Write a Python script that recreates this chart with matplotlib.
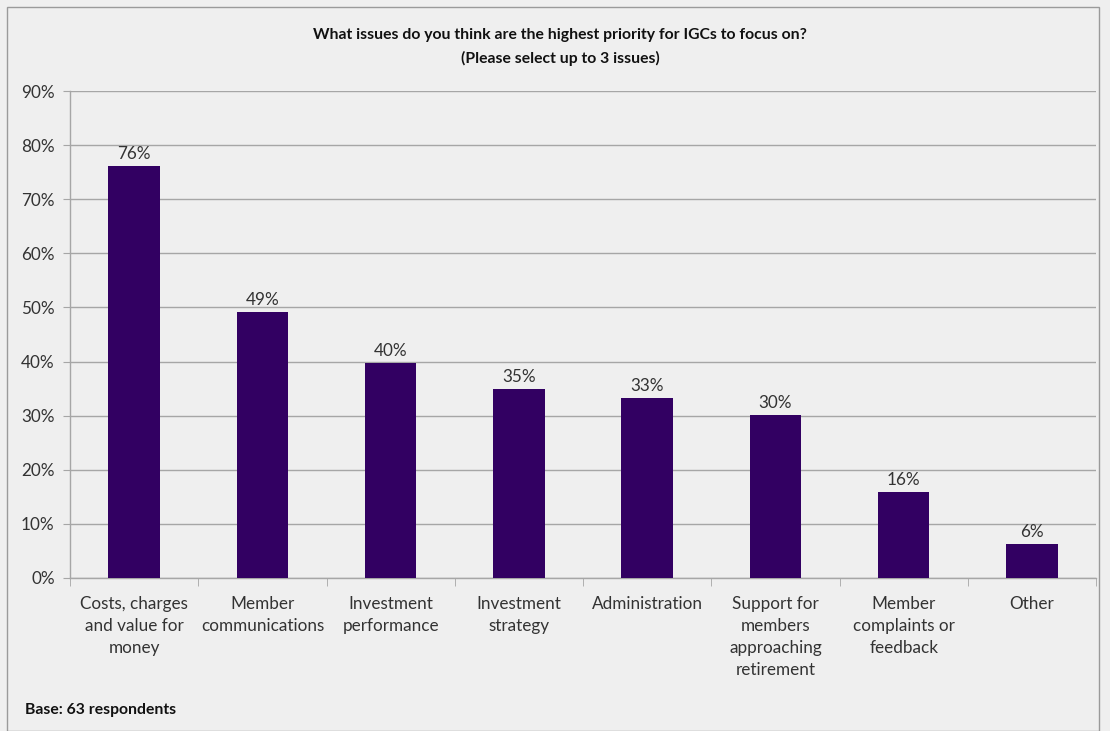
import matplotlib
matplotlib.use("Agg")
import matplotlib.pyplot as plt
from matplotlib.patches import Rectangle
import numpy as np

categories = ["Costs, charges\nand value for\nmoney", "Member\ncommunications",
              "Investment\nperformance", "Investment\nstrategy", "Administration",
              "Support for\nmembers\napproaching\nretirement", "Member\ncomplaints or\nfeedback",
              "Other"]
values = [76.2, 49.2, 39.7, 34.9, 33.3, 30.2, 15.9, 6.3]
labels = ["76%", "49%", "40%", "35%", "33%", "30%", "16%", "6%"]
yticks = [0, 10, 20, 30, 40, 50, 60, 70, 80, 90]
title = "What issues do you think are the highest priority for IGCs to focus on?\n(Please select up to 3 issues)"
base_note = "Base: 63 respondents"

plt.rcParams['font.family'] = ['Lato', 'DejaVu Sans']
bg = "#efefef"
fs = 12.3
fig = plt.figure(figsize=(11.1, 7.31), dpi=100, facecolor=bg)
fig.patches.append(Rectangle((7/1110, 0), 1096/1110 - 7/1110 + 0.003, 1 - 7/731,
                             transform=fig.transFigure, fill=False,
                             edgecolor="#9a9a9a", linewidth=1.0))
ax = fig.add_axes([70/1110, 1 - 578/731, (1096 - 70)/1110, (578 - 91)/731])
ax.set_facecolor(bg)

x = np.arange(len(categories))
ax.bar(x, values, width=0.4, color="#320062", zorder=3)
for xi, v, lab in zip(x, values, labels):
    ax.text(xi, v + 0.7, lab, ha="center", va="bottom", fontsize=fs, color="#333333")

ax.set_xlim(-0.5, len(categories) - 0.5)
ax.set_ylim(0, 90)
ax.set_yticks(yticks)
ax.set_yticklabels([f"{t}%" for t in yticks], fontsize=fs, color="#333333")
ax.yaxis.grid(True, color="#a6a6a6", linewidth=1.0, zorder=0)
ax.set_axisbelow(True)

ax.set_xticks(x)
ax.set_xticklabels(categories, fontsize=fs, color="#333333", linespacing=1.47)
ax.set_xticks(np.arange(-0.5, len(categories)), minor=True)
ax.tick_params(axis="x", which="major", length=0, pad=13)
ax.tick_params(axis="x", which="minor", length=6, color="#a6a6a6", direction="out")
ax.tick_params(axis="y", length=5, color="#a6a6a6", pad=6)
for lbl in ax.get_xticklabels():
    lbl.set_va("top")

for s in ["top", "right"]:
    ax.spines[s].set_visible(False)
for s in ["left", "bottom"]:
    ax.spines[s].set_color("#a6a6a6")
    ax.spines[s].set_linewidth(1.0)

fig.text(560/1110, 1 - 47/731, title, ha="center", va="center", fontsize=11.3,
         fontweight="bold", color="#111111", linespacing=1.75)
fig.text(25/1110, 1 - 710/731, base_note, ha="left", va="center", fontsize=11.3,
         fontweight="bold", color="#111111")

fig.savefig("out.png", dpi=100, facecolor=bg)
